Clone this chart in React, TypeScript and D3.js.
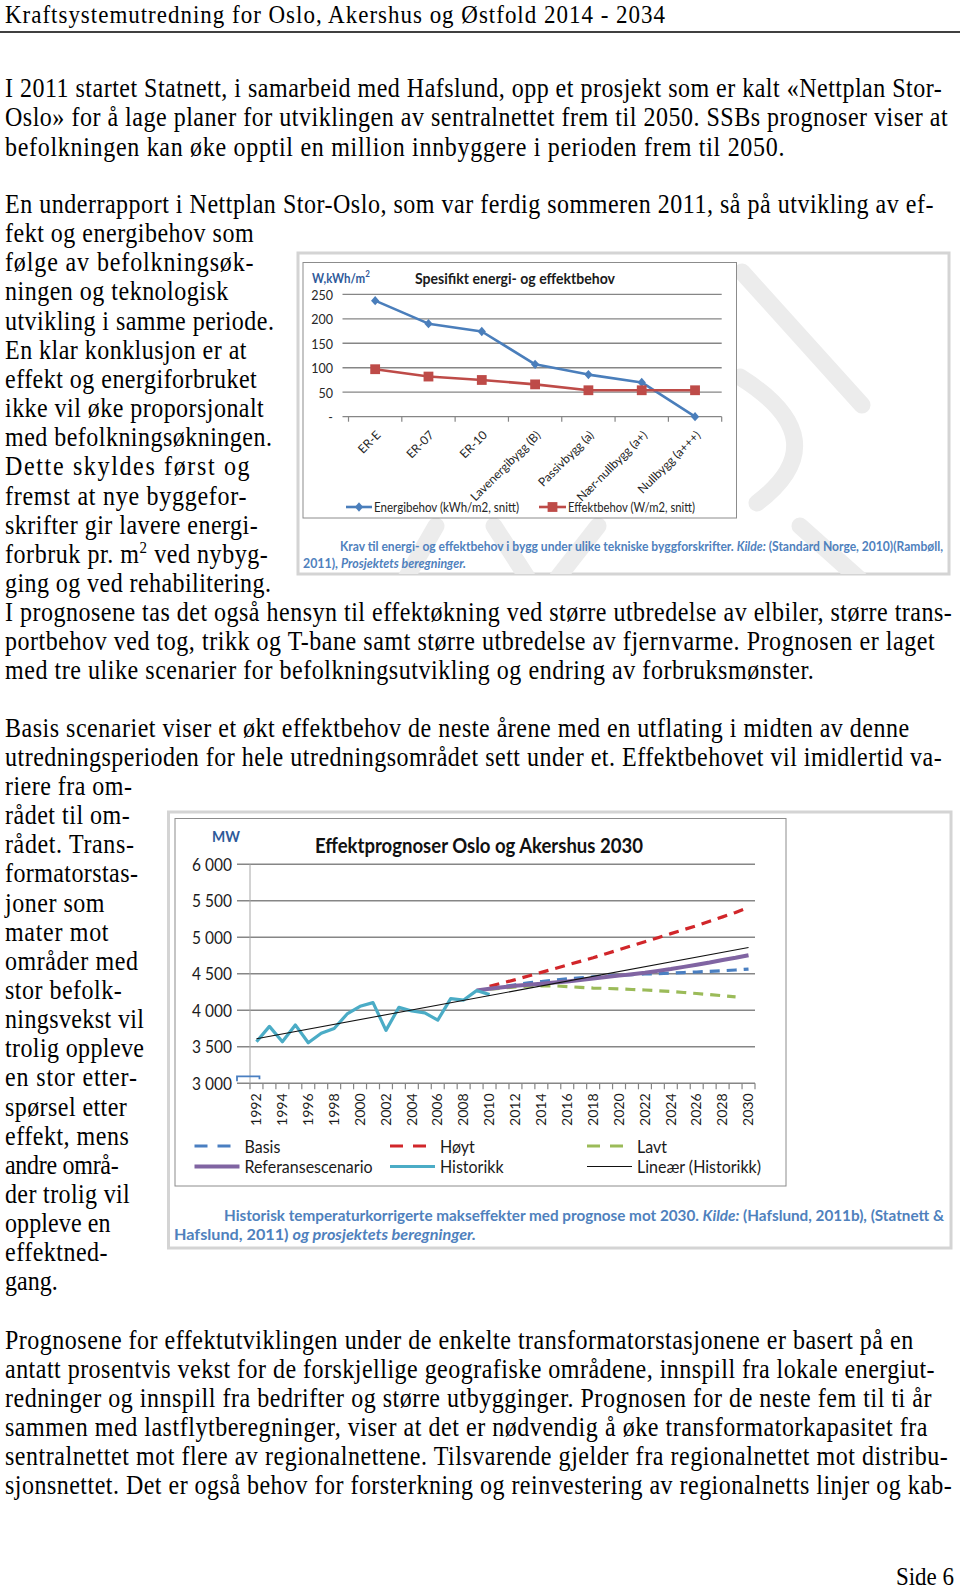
import React from "react";
import * as d3 from "d3";

// ---------- global look ----------
const S = 1.13; // vertical stretch of the scanned page
const SERIF = "'Liberation Serif', 'Times New Roman', serif";
const SANS = "Lato, 'Open Sans', 'Liberation Sans', sans-serif";
const LH = 29.15;
const DY = 2; // body text offset

// ---------- body text ----------
const headerText = "Kraftsystemutredning for Oslo, Akershus og Østfold 2014 - 2034";

const para1 = [
  "I 2011 startet Statnett, i samarbeid med Hafslund, opp et prosjekt som er kalt «Nettplan Stor-",
  "Oslo» for å lage planer for utviklingen av sentralnettet frem til 2050. SSBs prognoser viser at",
  "befolkningen kan øke opptil en million innbyggere i perioden frem til 2050.",
];
const para1W = [936.7, 942.7, 779.4];

const para2 = [
  "En underrapport i Nettplan Stor-Oslo, som var ferdig sommeren 2011, så på utvikling av ef-",
  "fekt og energibehov som",
  "følge av befolkningsøk-",
  "ningen og teknologisk",
  "utvikling i samme periode.",
  "En klar konklusjon er at",
  "effekt og energiforbruket",
  "ikke vil øke proporsjonalt",
  "med befolkningsøkningen.",
  "Dette skyldes først og",
  "fremst at nye byggefor-",
  "skrifter gir lavere energi-",
  "forbruk pr. m² ved nybyg-",
  "ging og ved rehabilitering.",
];
const para2W = [928.5, 248.6, 248.6, 223.3, 268.9, 241.5, 251.7, 258.8, 266.9, 244.6, 241.5, 252.7, 262.8, 265.9];

const para3 = [
  "I prognosene tas det også hensyn til effektøkning ved større utbredelse av elbiler, større trans-",
  "portbehov ved tog, trikk og T-bane samt større utbredelse av fjernvarme. Prognosen er laget",
  "med tre ulike scenarier for befolkningsutvikling og endring av forbruksmønster.",
];
const para3W = [946.8, 929.6, 808.8];

const para4 = [
  "Basis scenariet viser et økt effektbehov de neste årene med en utflating i midten av denne",
  "utredningsperioden for hele utredningsområdet sett under et. Effektbehovet vil imidlertid va-",
  "riere fra om-",
  "rådet til om-",
  "rådet. Trans-",
  "formatorstas-",
  "joner som",
  "mater mot",
  "områder med",
  "stor befolk-",
  "ningsvekst vil",
  "trolig oppleve",
  "en stor etter-",
  "spørsel etter",
  "effekt, mens",
  "andre områ-",
  "der trolig vil",
  "oppleve en",
  "effektned-",
  "gang.",
];
const para4W = [904.2, 936.7, 126.9, 124.8, 128.9, 132.9, 99.5, 103.5, 132.9, 116.7, 139, 139, 131.9, 121.8, 123.8, 113.7, 124.8, 105.5, 102.5, 52.8];

const para5 = [
  "Prognosene for effektutviklingen under de enkelte transformatorstasjonene er basert på en",
  "antatt prosentvis vekst for de forskjellige geografiske områdene, innspill fra lokale energiut-",
  "redninger og innspill fra bedrifter og større utbygginger. Prognosen for de neste fem til ti år",
  "sammen med lastflytberegninger, viser at det er nødvendig å øke transformatorkapasitet fra",
  "sentralnettet mot flere av regionalnettene. Tilsvarende gjelder fra regionalnettet mot distribu-",
  "sjonsnettet. Det er også behov for forsterkning og reinvestering av regionalnetts linjer og kab-",
];
const para5W = [908.2, 929.6, 926.5, 922.4, 942.7, 946.8];

// ---------- chart 1 data ----------
const cats1 = ["ER-E", "ER-07", "ER-10", "Lavenergibygg (B)", "Passivbygg (a)", "Nær-nullbygg (a+)", "Nullbygg (a+++)"];
const energibehov = [237, 190, 174, 107, 86, 70, 0];
const effektbehov = [97, 82, 75, 66, 54, 54, 54];
const yTicks1 = [0, 50, 100, 150, 200, 250];
const yTickLabels1 = ["-", "50", "100", "150", "200", "250"];

// ---------- chart 2 data ----------
const xTickLabels2 = ["1992", "1994", "1996", "1998", "2000", "2002", "2004", "2006", "2008", "2010", "2012", "2014", "2016", "2018", "2020", "2022", "2024", "2026", "2028", "2030"];
const yTicks2 = [3000, 3500, 4000, 4500, 5000, 5500, 6000];
const yTickLabels2 = ["3 000", "3 500", "4 000", "4 500", "5 000", "5 500", "6 000"];
const historikkStart = 1992;
const historikk = [3570, 3780, 3570, 3800, 3555, 3685, 3750, 3950, 4055, 4105, 3725, 4040, 3990, 3965, 3865, 4160, 4140, 4270, 4215];
const referanseStart = 2009;
const referanse = [4270, 4295, 4315, 4335, 4350, 4365, 4380, 4395, 4415, 4435, 4455, 4475, 4495, 4515, 4540, 4565, 4595, 4625, 4655, 4690, 4720, 4755];
const hoytStart = 2010;
const hoyt = [4330, 4375, 4420, 4470, 4520, 4570, 4620, 4670, 4720, 4775, 4830, 4885, 4940, 4995, 5050, 5105, 5160, 5220, 5280, 5340, 5410];
const basisStart = 2010;
const basis = [4300, 4325, 4350, 4375, 4395, 4415, 4430, 4445, 4458, 4470, 4480, 4490, 4497, 4503, 4510, 4517, 4525, 4533, 4542, 4552, 4565];
const lavtStart = 2010;
const lavt = [4290, 4305, 4320, 4330, 4335, 4335, 4325, 4315, 4305, 4300, 4293, 4285, 4278, 4268, 4258, 4244, 4230, 4215, 4200, 4185];
const trendYears = [1992, 2030];
const trendValues = [3610, 4860];
const firstYear = 1992;
const lastYear = 2030;

const st = (x: number, y: number, extra = "", s = S) => `translate(${x},${y}) scale(1,${s})${extra}`;

function BodyLine({ x, y, w, text }: { x: number; y: number; w: number; text: string }) {
  const parts = text.split("²");
  return (
    <text transform={st(x, y)} fontFamily={SERIF} fontSize={24} fill="#000" textLength={w} lengthAdjust="spacing">
      {parts.length === 1 ? (
        text
      ) : (
        <>
          {parts[0]}
          <tspan dy={-9} fontSize={15}>2</tspan>
          <tspan dy={9}>{parts[1]}</tspan>
        </>
      )}
    </text>
  );
}

function Paragraph({ y0, lines, widths }: { y0: number; lines: string[]; widths: number[] }) {
  return (
    <g>
      {lines.map((t, i) => (
        <BodyLine key={i} x={5} y={y0 + DY + i * LH} w={widths[i]} text={t} />
      ))}
    </g>
  );
}

function Chart1() {
  const x = d3.scaleBand<string>().domain(cats1).range([348.5, 721.7]);
  const y = d3.scaleLinear().domain([0, 250]).range([416.7, 294.3]);
  const cx = (c: string) => (x(c) ?? 0) + x.bandwidth() / 2;
  const lineGen = d3
    .line<number>()
    .x((_, i) => cx(cats1[i]))
    .y((d) => y(d));
  const square = d3.symbol(d3.symbolSquare, 96)() || "";
  const diamond = d3.symbol(d3.symbolSquare, 34)() || "";
  const boundaries = [...cats1.map((c) => x(c) ?? 0), x.range()[1]];
  const blue = "#4a7ebb";
  const red = "#be4b48";
  return (
    <g>
      <defs>
        <clipPath id="c1clip">
          <rect x={298} y={253} width={651} height={321} />
        </clipPath>
      </defs>
      <rect x={298} y={253} width={651} height={321} fill="#fff" stroke="#d4d4d4" strokeWidth={3} />
      <g clipPath="url(#c1clip)" stroke="#ececec" strokeWidth={17} strokeLinecap="round" fill="none">
        <line x1={742} y1={272} x2={862} y2={405} />
        <path d="M740,377 Q840,440 757,503" />
        <line x1={402} y1={585} x2={436} y2={526} />
        <line x1={494} y1={526} x2={532} y2={585} />
        <line x1={552} y1={585} x2={598} y2={526} />
        <line x1={800} y1={526} x2={866} y2={585} />
      </g>
      <rect x={303} y={262.5} width={433.5} height={255.5} fill="#fff" stroke="#8c8c8c" strokeWidth={1} />
      {/* grid */}
      {yTicks1.map((t, i) => (
        <g key={t}>
          <line x1={342.5} x2={721.7} y1={y(t)} y2={y(t)} stroke="#868686" strokeWidth={1.3} />
          <text transform={st(333, y(t))} fontFamily={SANS} fontSize={12.5} fill="#262626" textAnchor="end" dominantBaseline="central">
            {yTickLabels1[i]}
          </text>
        </g>
      ))}
      {boundaries.map((b, i) => (
        <line key={i} x1={b} x2={b} y1={y(0)} y2={y(0) + 5} stroke="#868686" strokeWidth={1.2} />
      ))}
      {/* category labels */}
      {cats1.map((c) => (
        <text
          key={c}
          transform={`translate(${cx(c) + 3},${y(0) + 16}) rotate(-45)`}
          fontFamily={SANS}
          fontSize={12}
          fill="#262626"
          textAnchor="end"
          dominantBaseline="central"
        >
          {c}
        </text>
      ))}
      {/* series */}
      <path d={lineGen(energibehov) || ""} fill="none" stroke={blue} strokeWidth={2.6} strokeLinejoin="round" />
      {energibehov.map((v, i) => (
        <path key={i} d={diamond} transform={st(cx(cats1[i]), y(v), " rotate(45)")} fill={blue} />
      ))}
      <path d={lineGen(effektbehov) || ""} fill="none" stroke={red} strokeWidth={2.6} strokeLinejoin="round" />
      {effektbehov.map((v, i) => (
        <path key={i} d={square} transform={`translate(${cx(cats1[i])},${y(v)})`} fill={red} />
      ))}
      {/* titles */}
      <text transform={st(312, 278)} fontFamily={SANS} fontSize={11.5} fontWeight={700} fill="#2e5a9a" dominantBaseline="central">
        W,kWh/m<tspan dy={-4} fontSize={8}>2</tspan>
      </text>
      <text transform={st(415, 278)} fontFamily={SANS} fontSize={13.5} fontWeight={700} fill="#1a1a1a" dominantBaseline="central" textLength={200} lengthAdjust="spacingAndGlyphs">
        Spesifikt energi- og effektbehov
      </text>
      {/* legend */}
      <line x1={346} x2={372} y1={507} y2={507} stroke={blue} strokeWidth={2.6} />
      <path d={diamond} transform={st(359, 507, " rotate(45)")} fill={blue} />
      <text transform={st(374, 507)} fontFamily={SANS} fontSize={12} fill="#262626" dominantBaseline="central" textLength={145} lengthAdjust="spacingAndGlyphs">
        Energibehov (kWh/m2, snitt)
      </text>
      <line x1={539} x2={566} y1={507} y2={507} stroke={red} strokeWidth={2.6} />
      <path d={square} transform={`translate(552.5,507)`} fill={red} />
      <text transform={st(568, 507)} fontFamily={SANS} fontSize={12} fill="#262626" dominantBaseline="central" textLength={127} lengthAdjust="spacingAndGlyphs">
        Effektbehov (W/m2, snitt)
      </text>
      {/* caption */}
      <text transform={st(340, 551)} fontFamily={SANS} fontSize={12} fontWeight={700} fill="#4f81bd" textLength={603} lengthAdjust="spacingAndGlyphs">
        {"Krav til energi- og effektbehov i bygg under ulike tekniske byggforskrifter. "}
        <tspan fontStyle="italic">Kilde:</tspan>
        {" (Standard Norge, 2010)(Rambøll,"}
      </text>
      <text transform={st(303, 568)} fontFamily={SANS} fontSize={12} fontWeight={700} fill="#4f81bd" textLength={163} lengthAdjust="spacingAndGlyphs">
        {"2011), "}
        <tspan fontStyle="italic">Prosjektets beregninger.</tspan>
      </text>
    </g>
  );
}

function Chart2() {
  const years = d3.range(firstYear, lastYear + 1).map(String);
  const x = d3.scaleBand<string>().domain(years).range([250, 755]);
  const y = d3.scaleLinear().domain([3000, 6000]).range([1083.3, 864.3]);
  const cx = (yr: number) => (x(String(yr)) ?? 0) + x.bandwidth() / 2;
  const seriesLine = (start: number) =>
    d3
      .line<number>()
      .x((_, i) => cx(start + i))
      .y((d) => y(d));
  const boundaries = [...years.map((yr) => x(yr) ?? 0), x.range()[1]];
  const c = {
    basis: "#4a7fc1",
    hoyt: "#d1262a",
    lavt: "#9bbb59",
    ref: "#8064a2",
    hist: "#4bacc6",
    trend: "#111",
  };
  const dash = "10,7";
  const trendLine = d3
    .line<number>()
    .x((_, i) => cx(trendYears[i]))
    .y((d) => y(d));
  const legendItems = [
    { label: "Basis", color: c.basis, dashed: true, w: 3.2, col: 0, row: 0 },
    { label: "Høyt", color: c.hoyt, dashed: true, w: 3.2, col: 1, row: 0 },
    { label: "Lavt", color: c.lavt, dashed: true, w: 3.2, col: 2, row: 0 },
    { label: "Referansescenario", color: c.ref, dashed: false, w: 4, col: 0, row: 1 },
    { label: "Historikk", color: c.hist, dashed: false, w: 3.2, col: 1, row: 1 },
    { label: "Lineær (Historikk)", color: c.trend, dashed: false, w: 1.2, col: 2, row: 1 },
  ];
  const colX = [194.5, 390, 587];
  const rowY = [1146, 1166.5];
  return (
    <g>
      <rect x={168.5} y={812} width={782.5} height={436} fill="#fff" stroke="#d4d4d4" strokeWidth={3} />
      <rect x={175} y={818.5} width={611} height={367.5} fill="#fff" stroke="#8c8c8c" strokeWidth={1} />
      {/* grid and y labels */}
      {yTicks2.map((t, i) => (
        <g key={t}>
          <line x1={237} x2={755} y1={y(t)} y2={y(t)} stroke="#868686" strokeWidth={1.5} />
          <text transform={st(232, y(t))} fontFamily={SANS} fontSize={15.5} fill="#1a1a1a" textAnchor="end" dominantBaseline="central">
            {yTickLabels2[i]}
          </text>
        </g>
      ))}
      <line x1={250} x2={250} y1={y(6000)} y2={y(3000)} stroke="#a6a6a6" strokeWidth={1} />
      {boundaries.map((b, i) => (
        <line key={i} x1={b} x2={b} y1={y(3000)} y2={y(3000) + 6} stroke="#868686" strokeWidth={1.2} />
      ))}
      {xTickLabels2.map((l) => (
        <text
          key={l}
          transform={st(cx(+l), y(3000) + 10, " rotate(-90)")}
          fontFamily={SANS}
          fontSize={12.5}
          fill="#1a1a1a"
          textAnchor="end"
          dominantBaseline="central"
        >
          {l}
        </text>
      ))}
      {/* small stub at 3 000 */}
      <path
        d={`M237,${y(3000) - 2} V${y(3000) - 7} H${cx(firstYear) + 3} V${y(3000) - 4}`}
        fill="none"
        stroke={c.basis}
        strokeWidth={1.8}
      />
      {/* series */}
      <path d={seriesLine(basisStart)(basis) || ""} fill="none" stroke={c.basis} strokeWidth={3.2} strokeDasharray={dash} />
      <path d={seriesLine(hoytStart)(hoyt) || ""} fill="none" stroke={c.hoyt} strokeWidth={3.2} strokeDasharray={dash} />
      <path d={seriesLine(lavtStart)(lavt) || ""} fill="none" stroke={c.lavt} strokeWidth={3.2} strokeDasharray={dash} />
      <path d={seriesLine(referanseStart)(referanse) || ""} fill="none" stroke={c.ref} strokeWidth={4} strokeLinejoin="round" />
      <path d={seriesLine(historikkStart)(historikk) || ""} fill="none" stroke={c.hist} strokeWidth={3.2} strokeLinejoin="round" />
      <path d={trendLine(trendValues) || ""} fill="none" stroke={c.trend} strokeWidth={1.1} />
      {/* titles */}
      <text transform={st(212, 836)} fontFamily={SANS} fontSize={14} fontWeight={700} fill="#2e5a9a" dominantBaseline="central">
        MW
      </text>
      <text transform={st(315, 845)} fontFamily={SANS} fontSize={18.5} fontWeight={700} fill="#111" dominantBaseline="central" textLength={328} lengthAdjust="spacingAndGlyphs">
        Effektprognoser Oslo og Akershus 2030
      </text>
      {/* legend */}
      {legendItems.map((it) => {
        const x0 = colX[it.col];
        const yy = rowY[it.row];
        const len = it.dashed ? 36 : 45;
        return (
          <g key={it.label}>
            <line
              x1={x0}
              x2={x0 + len}
              y1={yy}
              y2={yy}
              stroke={it.color}
              strokeWidth={it.w}
              strokeDasharray={it.dashed ? "13,10" : undefined}
            />
            <text
              transform={st(x0 + 50, yy)}
              fontFamily={SANS}
              fontSize={16}
              fill="#1a1a1a"
              dominantBaseline="central"
            >
              {it.label}
            </text>
          </g>
        );
      })}
      {/* caption */}
      <text transform={st(224, 1221)} fontFamily={SANS} fontSize={13.5} fontWeight={700} fill="#4f81bd" textLength={720} lengthAdjust="spacingAndGlyphs">
        {"Historisk temperaturkorrigerte makseffekter med prognose mot 2030. "}
        <tspan fontStyle="italic">Kilde:</tspan>
        {" (Hafslund, 2011b), (Statnett &"}
      </text>
      <text transform={st(174, 1240)} fontFamily={SANS} fontSize={13.5} fontWeight={700} fill="#4f81bd" textLength={302} lengthAdjust="spacingAndGlyphs">
        {"Hafslund, 2011) "}
        <tspan fontStyle="italic">og prosjektets beregninger.</tspan>
      </text>
    </g>
  );
}

export default function App() {
  return (
    <svg
      width={960}
      height={1592}
      viewBox="0 0 960 1592"
      style={{ position: "absolute", left: 0, top: 0, display: "block", background: "#fff" }}
    >
      <rect x={0} y={0} width={960} height={1592} fill="#fff" />
      <text transform={st(5, 22.5, "", 1.08)} fontFamily={SERIF} fontSize={23} fill="#000" textLength={660} lengthAdjust="spacing">
        {headerText}
      </text>
      <line x1={0} x2={960} y1={32} y2={32} stroke="#000" strokeWidth={1.5} />
      <Paragraph y0={95.3} lines={para1} widths={para1W} />
      <Paragraph y0={211} lines={para2} widths={para2W} />
      <Paragraph y0={211 + para2.length * LH} lines={para3} widths={para3W} />
      <Paragraph y0={734.6} lines={para4} widths={para4W} />
      <Paragraph y0={1346.5} lines={para5} widths={para5W} />
      <Chart1 />
      <Chart2 />
      <text transform={st(954, 1585, "", 1.08)} fontFamily={SERIF} fontSize={23} fill="#000" textAnchor="end">
        Side 6
      </text>
    </svg>
  );
}
